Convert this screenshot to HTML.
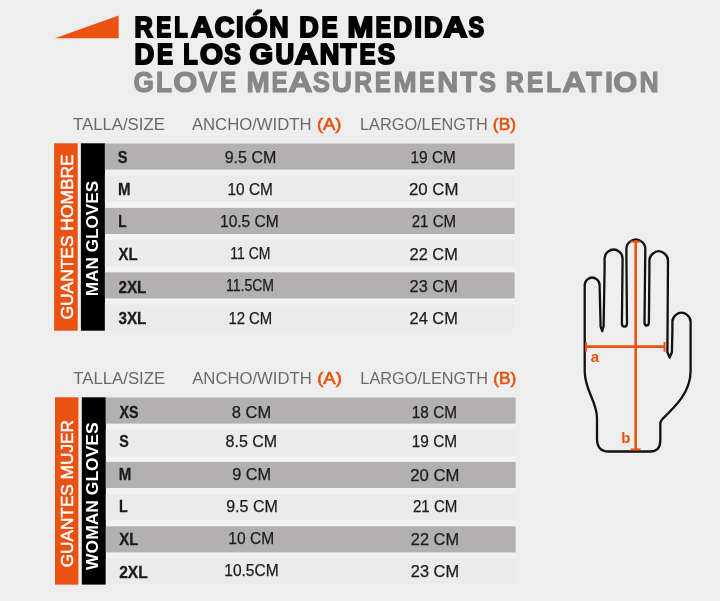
<!DOCTYPE html>
<html><head><meta charset="utf-8">
<style>
html,body{margin:0;padding:0;}
body{width:720px;height:601px;background:#eeeeee;overflow:hidden;}
svg{display:block;font-family:"Liberation Sans",sans-serif;}
</style></head><body>
<svg width="720" height="601" viewBox="0 0 720 601" style="filter:blur(0.35px)">
<rect width="720" height="601" fill="#eeeeee"/>
<polygon points="54.9,38.3 118.7,15.5 118.7,38.3" fill="#e95211"/>
<rect x="104.9" y="143.5" width="409.70" height="187.10" fill="#f2f2f0"/>
<rect x="105.8" y="397.5" width="409.80" height="187.10" fill="#f2f2f0"/>
<rect x="54.1" y="143.3" width="23.60" height="187.40" fill="#e95211"/>
<rect x="80.9" y="143.3" width="24.00" height="187.40" fill="#000"/>
<rect x="104.9" y="143.5" width="409.70" height="26.10" fill="#b2b0b0"/>
<rect x="104.9" y="175.7" width="409.70" height="26.10" fill="#ebebeb"/>
<rect x="104.9" y="207.9" width="409.70" height="26.10" fill="#b2b0b0"/>
<rect x="104.9" y="240.10000000000002" width="409.70" height="26.10" fill="#ebebeb"/>
<rect x="104.9" y="272.3" width="409.70" height="26.10" fill="#b2b0b0"/>
<rect x="104.9" y="304.5" width="409.70" height="26.10" fill="#ebebeb"/>
<rect x="55.0" y="397.3" width="23.40" height="187.30" fill="#e95211"/>
<rect x="81.8" y="397.3" width="24.00" height="187.30" fill="#000"/>
<rect x="105.8" y="397.5" width="409.80" height="26.10" fill="#b2b0b0"/>
<rect x="105.8" y="429.7" width="409.80" height="26.10" fill="#ebebeb"/>
<rect x="105.8" y="461.9" width="409.80" height="26.10" fill="#b2b0b0"/>
<rect x="105.8" y="494.1" width="409.80" height="26.10" fill="#ebebeb"/>
<rect x="105.8" y="526.3" width="409.80" height="26.10" fill="#b2b0b0"/>
<rect x="105.8" y="558.5" width="409.80" height="26.10" fill="#ebebeb"/>
<g fill="none" stroke="#111" stroke-width="2.3" stroke-linejoin="round" stroke-linecap="round">
<path d="M 650.5 451.5 L 608.5 451.5 C 600.5 451.5 597 446.5 597 438.5 L 597 418 C 597 401 584.7 391 584.7 371 L 584.70 284.95 C 584.70 279.88 589.77 277.50 592.15 277.50 C 594.53 277.50 599.60 279.88 599.60 284.95 L 600.6 326.5 L 602.2 331.2 L 603.6 326.5 L 604.6 268 L 604.60 258.50 C 604.60 252.38 610.72 249.50 613.60 249.50 C 616.48 249.50 622.60 252.38 622.60 258.50 L 621.9 323.2 C 621.9 327.8 627.0 327.8 627.0 323.2 L 626.4 258 L 626.40 248.75 C 626.40 242.32 632.83 239.30 635.85 239.30 C 638.87 239.30 645.30 242.32 645.30 248.75 L 644.5 322.2 C 644.5 326.6 648.9 326.6 648.9 322.2 L 649.4 270 L 649.40 260.50 C 649.40 254.18 655.72 251.20 658.70 251.20 C 661.68 251.20 668.00 254.18 668.00 260.50 L 667.4 352.3 L 669.7 357.6 L 671.9 352.3 L 672.4 331 L 672.40 321.70 C 672.40 315.51 678.59 312.60 681.50 312.60 C 684.41 312.60 690.60 315.51 690.60 321.70 L 690.6 371 C 690.6 392 676 406 662.2 419.3 L 660.3 422.6 L 660.3 440 C 660.3 447.5 657 451.5 650.5 451.5 Z"/>
</g>
<g stroke="#e95211" stroke-width="2.6" fill="none">
<path d="M 635.7 241.3 L 635.7 449.2"/>
<path d="M 630.6 241.6 L 640.6 241.6" stroke-width="2"/>
<path d="M 630.6 449.4 L 640.6 449.4" stroke-width="2"/>
<path d="M 585.8 346.6 L 664.8 346.6"/>
<path d="M 586 342 L 586 351.8" stroke-width="2"/>
<path d="M 664.6 342 L 664.6 351.8" stroke-width="2"/>
</g>
<text x="590.8" y="362" font-size="15" font-weight="bold" fill="#e95211">a</text>
<text x="621.2" y="442.9" font-size="15" font-weight="bold" fill="#e95211">b</text>

<text x="134.54" y="36.50" textLength="18.37" lengthAdjust="spacingAndGlyphs" font-size="28.7" font-weight="bold" fill="#000" stroke="#000" stroke-width="2.0" stroke-linejoin="miter">R</text>
<text x="156.34" y="36.50" textLength="14.93" lengthAdjust="spacingAndGlyphs" font-size="28.7" font-weight="bold" fill="#000" stroke="#000" stroke-width="2.0" stroke-linejoin="miter">E</text>
<text x="174.24" y="36.50" textLength="13.40" lengthAdjust="spacingAndGlyphs" font-size="28.7" font-weight="bold" fill="#000" stroke="#000" stroke-width="2.0" stroke-linejoin="miter">L</text>
<text x="190.97" y="36.50" textLength="22.06" lengthAdjust="spacingAndGlyphs" font-size="28.7" font-weight="bold" fill="#000" stroke="#000" stroke-width="2.0" stroke-linejoin="miter">A</text>
<text x="214.63" y="36.50" textLength="19.58" lengthAdjust="spacingAndGlyphs" font-size="28.7" font-weight="bold" fill="#000" stroke="#000" stroke-width="2.0" stroke-linejoin="miter">C</text>
<text x="236.11" y="36.50" textLength="7.60" lengthAdjust="spacingAndGlyphs" font-size="28.7" font-weight="bold" fill="#000" stroke="#000" stroke-width="2.0" stroke-linejoin="miter">I</text>
<text x="244.94" y="36.50" textLength="22.62" lengthAdjust="spacingAndGlyphs" font-size="28.7" font-weight="bold" fill="#000" stroke="#000" stroke-width="2.0" stroke-linejoin="miter">Ó</text>
<text x="269.19" y="36.50" textLength="19.37" lengthAdjust="spacingAndGlyphs" font-size="28.7" font-weight="bold" fill="#000" stroke="#000" stroke-width="2.0" stroke-linejoin="miter">N</text>
<text x="299.17" y="36.50" textLength="19.45" lengthAdjust="spacingAndGlyphs" font-size="28.7" font-weight="bold" fill="#000" stroke="#000" stroke-width="2.0" stroke-linejoin="miter">D</text>
<text x="321.52" y="36.50" textLength="16.15" lengthAdjust="spacingAndGlyphs" font-size="28.7" font-weight="bold" fill="#000" stroke="#000" stroke-width="2.0" stroke-linejoin="miter">E</text>
<text x="347.45" y="36.50" textLength="25.79" lengthAdjust="spacingAndGlyphs" font-size="28.7" font-weight="bold" fill="#000" stroke="#000" stroke-width="2.0" stroke-linejoin="miter">M</text>
<text x="375.49" y="36.50" textLength="15.56" lengthAdjust="spacingAndGlyphs" font-size="28.7" font-weight="bold" fill="#000" stroke="#000" stroke-width="2.0" stroke-linejoin="miter">E</text>
<text x="393.30" y="36.50" textLength="18.82" lengthAdjust="spacingAndGlyphs" font-size="28.7" font-weight="bold" fill="#000" stroke="#000" stroke-width="2.0" stroke-linejoin="miter">D</text>
<text x="414.21" y="36.50" textLength="7.83" lengthAdjust="spacingAndGlyphs" font-size="28.7" font-weight="bold" fill="#000" stroke="#000" stroke-width="2.0" stroke-linejoin="miter">I</text>
<text x="424.05" y="36.50" textLength="18.54" lengthAdjust="spacingAndGlyphs" font-size="28.7" font-weight="bold" fill="#000" stroke="#000" stroke-width="2.0" stroke-linejoin="miter">D</text>
<text x="443.59" y="36.50" textLength="23.75" lengthAdjust="spacingAndGlyphs" font-size="28.7" font-weight="bold" fill="#000" stroke="#000" stroke-width="2.0" stroke-linejoin="miter">A</text>
<text x="468.57" y="36.50" textLength="15.56" lengthAdjust="spacingAndGlyphs" font-size="28.7" font-weight="bold" fill="#000" stroke="#000" stroke-width="2.0" stroke-linejoin="miter">S</text>
<text x="134.41" y="64.00" textLength="19.70" lengthAdjust="spacingAndGlyphs" font-size="28.7" font-weight="bold" fill="#000" stroke="#000" stroke-width="2.0" stroke-linejoin="miter">D</text>
<text x="157.02" y="64.00" textLength="15.99" lengthAdjust="spacingAndGlyphs" font-size="28.7" font-weight="bold" fill="#000" stroke="#000" stroke-width="2.0" stroke-linejoin="miter">E</text>
<text x="183.29" y="64.00" textLength="14.43" lengthAdjust="spacingAndGlyphs" font-size="28.7" font-weight="bold" fill="#000" stroke="#000" stroke-width="2.0" stroke-linejoin="miter">L</text>
<text x="199.94" y="64.00" textLength="22.94" lengthAdjust="spacingAndGlyphs" font-size="28.7" font-weight="bold" fill="#000" stroke="#000" stroke-width="2.0" stroke-linejoin="miter">O</text>
<text x="224.27" y="64.00" textLength="16.57" lengthAdjust="spacingAndGlyphs" font-size="28.7" font-weight="bold" fill="#000" stroke="#000" stroke-width="2.0" stroke-linejoin="miter">S</text>
<text x="249.57" y="64.00" textLength="23.62" lengthAdjust="spacingAndGlyphs" font-size="28.7" font-weight="bold" fill="#000" stroke="#000" stroke-width="2.0" stroke-linejoin="miter">G</text>
<text x="275.39" y="64.00" textLength="18.65" lengthAdjust="spacingAndGlyphs" font-size="28.7" font-weight="bold" fill="#000" stroke="#000" stroke-width="2.0" stroke-linejoin="miter">U</text>
<text x="294.83" y="64.00" textLength="23.18" lengthAdjust="spacingAndGlyphs" font-size="28.7" font-weight="bold" fill="#000" stroke="#000" stroke-width="2.0" stroke-linejoin="miter">A</text>
<text x="319.79" y="64.00" textLength="19.60" lengthAdjust="spacingAndGlyphs" font-size="28.7" font-weight="bold" fill="#000" stroke="#000" stroke-width="2.0" stroke-linejoin="miter">N</text>
<text x="340.51" y="64.00" textLength="15.94" lengthAdjust="spacingAndGlyphs" font-size="28.7" font-weight="bold" fill="#000" stroke="#000" stroke-width="2.0" stroke-linejoin="miter">T</text>
<text x="359.52" y="64.00" textLength="15.99" lengthAdjust="spacingAndGlyphs" font-size="28.7" font-weight="bold" fill="#000" stroke="#000" stroke-width="2.0" stroke-linejoin="miter">E</text>
<text x="377.77" y="64.00" textLength="17.31" lengthAdjust="spacingAndGlyphs" font-size="28.7" font-weight="bold" fill="#000" stroke="#000" stroke-width="2.0" stroke-linejoin="miter">S</text>
<text x="133.60" y="92.20" textLength="20.36" lengthAdjust="spacingAndGlyphs" font-size="30.2" font-weight="bold" fill="#878787" stroke="#878787" stroke-width="1.2" stroke-linejoin="miter">G</text>
<text x="156.09" y="92.20" textLength="15.94" lengthAdjust="spacingAndGlyphs" font-size="30.2" font-weight="bold" fill="#878787" stroke="#878787" stroke-width="1.2" stroke-linejoin="miter">L</text>
<text x="173.28" y="92.20" textLength="24.08" lengthAdjust="spacingAndGlyphs" font-size="30.2" font-weight="bold" fill="#878787" stroke="#878787" stroke-width="1.2" stroke-linejoin="miter">O</text>
<text x="198.20" y="92.20" textLength="18.90" lengthAdjust="spacingAndGlyphs" font-size="30.2" font-weight="bold" fill="#878787" stroke="#878787" stroke-width="1.2" stroke-linejoin="miter">V</text>
<text x="220.09" y="92.20" textLength="16.16" lengthAdjust="spacingAndGlyphs" font-size="30.2" font-weight="bold" fill="#878787" stroke="#878787" stroke-width="1.2" stroke-linejoin="miter">E</text>
<text x="246.38" y="92.20" textLength="23.21" lengthAdjust="spacingAndGlyphs" font-size="30.2" font-weight="bold" fill="#878787" stroke="#878787" stroke-width="1.2" stroke-linejoin="miter">M</text>
<text x="271.60" y="92.20" textLength="16.04" lengthAdjust="spacingAndGlyphs" font-size="30.2" font-weight="bold" fill="#878787" stroke="#878787" stroke-width="1.2" stroke-linejoin="miter">E</text>
<text x="288.31" y="92.20" textLength="24.33" lengthAdjust="spacingAndGlyphs" font-size="30.2" font-weight="bold" fill="#878787" stroke="#878787" stroke-width="1.2" stroke-linejoin="miter">A</text>
<text x="312.69" y="92.20" textLength="17.13" lengthAdjust="spacingAndGlyphs" font-size="30.2" font-weight="bold" fill="#878787" stroke="#878787" stroke-width="1.2" stroke-linejoin="miter">S</text>
<text x="331.85" y="92.20" textLength="20.17" lengthAdjust="spacingAndGlyphs" font-size="30.2" font-weight="bold" fill="#878787" stroke="#878787" stroke-width="1.2" stroke-linejoin="miter">U</text>
<text x="354.30" y="92.20" textLength="17.80" lengthAdjust="spacingAndGlyphs" font-size="30.2" font-weight="bold" fill="#878787" stroke="#878787" stroke-width="1.2" stroke-linejoin="miter">R</text>
<text x="374.69" y="92.20" textLength="16.16" lengthAdjust="spacingAndGlyphs" font-size="30.2" font-weight="bold" fill="#878787" stroke="#878787" stroke-width="1.2" stroke-linejoin="miter">E</text>
<text x="393.59" y="92.20" textLength="23.11" lengthAdjust="spacingAndGlyphs" font-size="30.2" font-weight="bold" fill="#878787" stroke="#878787" stroke-width="1.2" stroke-linejoin="miter">M</text>
<text x="419.02" y="92.20" textLength="15.75" lengthAdjust="spacingAndGlyphs" font-size="30.2" font-weight="bold" fill="#878787" stroke="#878787" stroke-width="1.2" stroke-linejoin="miter">E</text>
<text x="437.26" y="92.20" textLength="20.96" lengthAdjust="spacingAndGlyphs" font-size="30.2" font-weight="bold" fill="#878787" stroke="#878787" stroke-width="1.2" stroke-linejoin="miter">N</text>
<text x="460.20" y="92.20" textLength="16.78" lengthAdjust="spacingAndGlyphs" font-size="30.2" font-weight="bold" fill="#878787" stroke="#878787" stroke-width="1.2" stroke-linejoin="miter">T</text>
<text x="478.96" y="92.20" textLength="17.07" lengthAdjust="spacingAndGlyphs" font-size="30.2" font-weight="bold" fill="#878787" stroke="#878787" stroke-width="1.2" stroke-linejoin="miter">S</text>
<text x="505.42" y="92.20" textLength="18.41" lengthAdjust="spacingAndGlyphs" font-size="30.2" font-weight="bold" fill="#878787" stroke="#878787" stroke-width="1.2" stroke-linejoin="miter">R</text>
<text x="526.77" y="92.20" textLength="16.62" lengthAdjust="spacingAndGlyphs" font-size="30.2" font-weight="bold" fill="#878787" stroke="#878787" stroke-width="1.2" stroke-linejoin="miter">E</text>
<text x="546.33" y="92.20" textLength="14.72" lengthAdjust="spacingAndGlyphs" font-size="30.2" font-weight="bold" fill="#878787" stroke="#878787" stroke-width="1.2" stroke-linejoin="miter">L</text>
<text x="562.21" y="92.20" textLength="23.72" lengthAdjust="spacingAndGlyphs" font-size="30.2" font-weight="bold" fill="#878787" stroke="#878787" stroke-width="1.2" stroke-linejoin="miter">A</text>
<text x="585.88" y="92.20" textLength="15.97" lengthAdjust="spacingAndGlyphs" font-size="30.2" font-weight="bold" fill="#878787" stroke="#878787" stroke-width="1.2" stroke-linejoin="miter">T</text>
<text x="604.94" y="92.20" textLength="8.01" lengthAdjust="spacingAndGlyphs" font-size="30.2" font-weight="bold" fill="#878787" stroke="#878787" stroke-width="1.2" stroke-linejoin="miter">I</text>
<text x="613.28" y="92.20" textLength="24.08" lengthAdjust="spacingAndGlyphs" font-size="30.2" font-weight="bold" fill="#878787" stroke="#878787" stroke-width="1.2" stroke-linejoin="miter">O</text>
<text x="639.40" y="92.20" textLength="19.19" lengthAdjust="spacingAndGlyphs" font-size="30.2" font-weight="bold" fill="#878787" stroke="#878787" stroke-width="1.2" stroke-linejoin="miter">N</text>
<text x="73.03" y="130.00" textLength="91.81" lengthAdjust="spacingAndGlyphs" font-size="16" font-weight="normal" fill="#6a6a6a">TALLA/SIZE</text>
<text x="191.94" y="130.00" textLength="119.54" lengthAdjust="spacingAndGlyphs" font-size="16" font-weight="normal" fill="#6a6a6a">ANCHO/WIDTH</text>
<text x="316.93" y="129.70" textLength="24.56" lengthAdjust="spacingAndGlyphs" font-size="16" font-weight="normal" fill="#e95211" stroke="#e95211" stroke-width="0.6" stroke-linejoin="miter">(A)</text>
<text x="360.05" y="130.00" textLength="127.65" lengthAdjust="spacingAndGlyphs" font-size="16" font-weight="normal" fill="#6a6a6a">LARGO/LENGTH</text>
<text x="492.86" y="129.70" textLength="23.21" lengthAdjust="spacingAndGlyphs" font-size="16" font-weight="normal" fill="#e95211" stroke="#e95211" stroke-width="0.6" stroke-linejoin="miter">(B)</text>
<text x="73.33" y="384.00" textLength="91.81" lengthAdjust="spacingAndGlyphs" font-size="16" font-weight="normal" fill="#6a6a6a">TALLA/SIZE</text>
<text x="192.24" y="384.00" textLength="119.54" lengthAdjust="spacingAndGlyphs" font-size="16" font-weight="normal" fill="#6a6a6a">ANCHO/WIDTH</text>
<text x="317.23" y="383.70" textLength="24.56" lengthAdjust="spacingAndGlyphs" font-size="16" font-weight="normal" fill="#e95211" stroke="#e95211" stroke-width="0.6" stroke-linejoin="miter">(A)</text>
<text x="360.35" y="384.00" textLength="127.65" lengthAdjust="spacingAndGlyphs" font-size="16" font-weight="normal" fill="#6a6a6a">LARGO/LENGTH</text>
<text x="493.16" y="383.70" textLength="23.21" lengthAdjust="spacingAndGlyphs" font-size="16" font-weight="normal" fill="#e95211" stroke="#e95211" stroke-width="0.6" stroke-linejoin="miter">(B)</text>
<text x="117.73" y="162.85" textLength="9.73" lengthAdjust="spacingAndGlyphs" font-size="16.0" font-weight="bold" fill="#1c1c1c" stroke="#1c1c1c" stroke-width="0.3" stroke-linejoin="miter">S</text>
<text x="118.08" y="195.35" textLength="12.53" lengthAdjust="spacingAndGlyphs" font-size="16.0" font-weight="bold" fill="#1c1c1c" stroke="#1c1c1c" stroke-width="0.3" stroke-linejoin="miter">M</text>
<text x="118.17" y="227.35" textLength="8.24" lengthAdjust="spacingAndGlyphs" font-size="16.0" font-weight="bold" fill="#1c1c1c" stroke="#1c1c1c" stroke-width="0.3" stroke-linejoin="miter">L</text>
<text x="118.61" y="260.35" textLength="19.00" lengthAdjust="spacingAndGlyphs" font-size="16.0" font-weight="bold" fill="#1c1c1c" stroke="#1c1c1c" stroke-width="0.3" stroke-linejoin="miter">XL</text>
<text x="118.47" y="292.85" textLength="27.97" lengthAdjust="spacingAndGlyphs" font-size="16.0" font-weight="bold" fill="#1c1c1c" stroke="#1c1c1c" stroke-width="0.3" stroke-linejoin="miter">2XL</text>
<text x="118.40" y="324.35" textLength="27.98" lengthAdjust="spacingAndGlyphs" font-size="16.0" font-weight="bold" fill="#1c1c1c" stroke="#1c1c1c" stroke-width="0.3" stroke-linejoin="miter">3XL</text>
<text x="224.71" y="162.88" textLength="51.60" lengthAdjust="spacingAndGlyphs" font-size="16.0" font-weight="normal" fill="#1c1c1c" stroke="#1c1c1c" stroke-width="0.25" stroke-linejoin="miter">9.5 CM</text>
<text x="227.55" y="195.38" textLength="45.34" lengthAdjust="spacingAndGlyphs" font-size="16.0" font-weight="normal" fill="#1c1c1c" stroke="#1c1c1c" stroke-width="0.25" stroke-linejoin="miter">10 CM</text>
<text x="220.00" y="227.38" textLength="58.79" lengthAdjust="spacingAndGlyphs" font-size="16.0" font-weight="normal" fill="#1c1c1c" stroke="#1c1c1c" stroke-width="0.25" stroke-linejoin="miter">10.5 CM</text>
<text x="230.21" y="259.38" textLength="40.23" lengthAdjust="spacingAndGlyphs" font-size="16.0" font-weight="normal" fill="#1c1c1c" stroke="#1c1c1c" stroke-width="0.25" stroke-linejoin="miter">11 CM</text>
<text x="225.94" y="291.18" textLength="48.11" lengthAdjust="spacingAndGlyphs" font-size="16.0" font-weight="normal" fill="#1c1c1c" stroke="#1c1c1c" stroke-width="0.25" stroke-linejoin="miter">11.5CM</text>
<text x="228.39" y="324.38" textLength="43.84" lengthAdjust="spacingAndGlyphs" font-size="16.0" font-weight="normal" fill="#1c1c1c" stroke="#1c1c1c" stroke-width="0.25" stroke-linejoin="miter">12 CM</text>
<text x="410.55" y="162.88" textLength="45.34" lengthAdjust="spacingAndGlyphs" font-size="16.0" font-weight="normal" fill="#1c1c1c" stroke="#1c1c1c" stroke-width="0.25" stroke-linejoin="miter">19 CM</text>
<text x="408.99" y="195.38" textLength="49.45" lengthAdjust="spacingAndGlyphs" font-size="16.0" font-weight="normal" fill="#1c1c1c" stroke="#1c1c1c" stroke-width="0.25" stroke-linejoin="miter">20 CM</text>
<text x="411.74" y="227.38" textLength="44.37" lengthAdjust="spacingAndGlyphs" font-size="16.0" font-weight="normal" fill="#1c1c1c" stroke="#1c1c1c" stroke-width="0.25" stroke-linejoin="miter">21 CM</text>
<text x="409.62" y="259.88" textLength="48.16" lengthAdjust="spacingAndGlyphs" font-size="16.0" font-weight="normal" fill="#1c1c1c" stroke="#1c1c1c" stroke-width="0.25" stroke-linejoin="miter">22 CM</text>
<text x="409.62" y="291.88" textLength="48.16" lengthAdjust="spacingAndGlyphs" font-size="16.0" font-weight="normal" fill="#1c1c1c" stroke="#1c1c1c" stroke-width="0.25" stroke-linejoin="miter">23 CM</text>
<text x="409.62" y="324.38" textLength="48.16" lengthAdjust="spacingAndGlyphs" font-size="16.0" font-weight="normal" fill="#1c1c1c" stroke="#1c1c1c" stroke-width="0.25" stroke-linejoin="miter">24 CM</text>
<text x="119.39" y="417.60" textLength="19.03" lengthAdjust="spacingAndGlyphs" font-size="16.0" font-weight="bold" fill="#1c1c1c" stroke="#1c1c1c" stroke-width="0.3" stroke-linejoin="miter">XS</text>
<text x="119.20" y="447.35" textLength="9.51" lengthAdjust="spacingAndGlyphs" font-size="16.0" font-weight="bold" fill="#1c1c1c" stroke="#1c1c1c" stroke-width="0.3" stroke-linejoin="miter">S</text>
<text x="118.83" y="479.85" textLength="12.53" lengthAdjust="spacingAndGlyphs" font-size="16.0" font-weight="bold" fill="#1c1c1c" stroke="#1c1c1c" stroke-width="0.3" stroke-linejoin="miter">M</text>
<text x="118.93" y="512.35" textLength="8.70" lengthAdjust="spacingAndGlyphs" font-size="16.0" font-weight="bold" fill="#1c1c1c" stroke="#1c1c1c" stroke-width="0.3" stroke-linejoin="miter">L</text>
<text x="119.36" y="545.35" textLength="19.00" lengthAdjust="spacingAndGlyphs" font-size="16.0" font-weight="bold" fill="#1c1c1c" stroke="#1c1c1c" stroke-width="0.3" stroke-linejoin="miter">XL</text>
<text x="119.19" y="577.85" textLength="28.54" lengthAdjust="spacingAndGlyphs" font-size="16.0" font-weight="bold" fill="#1c1c1c" stroke="#1c1c1c" stroke-width="0.3" stroke-linejoin="miter">2XL</text>
<text x="231.80" y="417.62" textLength="39.33" lengthAdjust="spacingAndGlyphs" font-size="16.0" font-weight="normal" fill="#1c1c1c" stroke="#1c1c1c" stroke-width="0.25" stroke-linejoin="miter">8 CM</text>
<text x="225.58" y="447.38" textLength="51.48" lengthAdjust="spacingAndGlyphs" font-size="16.0" font-weight="normal" fill="#1c1c1c" stroke="#1c1c1c" stroke-width="0.25" stroke-linejoin="miter">8.5 CM</text>
<text x="232.21" y="479.88" textLength="38.99" lengthAdjust="spacingAndGlyphs" font-size="16.0" font-weight="normal" fill="#1c1c1c" stroke="#1c1c1c" stroke-width="0.25" stroke-linejoin="miter">9 CM</text>
<text x="226.21" y="512.38" textLength="51.60" lengthAdjust="spacingAndGlyphs" font-size="16.0" font-weight="normal" fill="#1c1c1c" stroke="#1c1c1c" stroke-width="0.25" stroke-linejoin="miter">9.5 CM</text>
<text x="228.29" y="544.38" textLength="45.81" lengthAdjust="spacingAndGlyphs" font-size="16.0" font-weight="normal" fill="#1c1c1c" stroke="#1c1c1c" stroke-width="0.25" stroke-linejoin="miter">10 CM</text>
<text x="224.29" y="576.17" textLength="54.35" lengthAdjust="spacingAndGlyphs" font-size="16.0" font-weight="normal" fill="#1c1c1c" stroke="#1c1c1c" stroke-width="0.25" stroke-linejoin="miter">10.5CM</text>
<text x="411.80" y="417.62" textLength="45.34" lengthAdjust="spacingAndGlyphs" font-size="16.0" font-weight="normal" fill="#1c1c1c" stroke="#1c1c1c" stroke-width="0.25" stroke-linejoin="miter">18 CM</text>
<text x="411.80" y="446.88" textLength="45.34" lengthAdjust="spacingAndGlyphs" font-size="16.0" font-weight="normal" fill="#1c1c1c" stroke="#1c1c1c" stroke-width="0.25" stroke-linejoin="miter">19 CM</text>
<text x="410.25" y="480.62" textLength="49.08" lengthAdjust="spacingAndGlyphs" font-size="16.0" font-weight="normal" fill="#1c1c1c" stroke="#1c1c1c" stroke-width="0.25" stroke-linejoin="miter">20 CM</text>
<text x="412.99" y="512.38" textLength="44.37" lengthAdjust="spacingAndGlyphs" font-size="16.0" font-weight="normal" fill="#1c1c1c" stroke="#1c1c1c" stroke-width="0.25" stroke-linejoin="miter">21 CM</text>
<text x="410.87" y="544.88" textLength="48.16" lengthAdjust="spacingAndGlyphs" font-size="16.0" font-weight="normal" fill="#1c1c1c" stroke="#1c1c1c" stroke-width="0.25" stroke-linejoin="miter">22 CM</text>
<text x="410.87" y="576.88" textLength="48.16" lengthAdjust="spacingAndGlyphs" font-size="16.0" font-weight="normal" fill="#1c1c1c" stroke="#1c1c1c" stroke-width="0.25" stroke-linejoin="miter">23 CM</text>
<text x="-0.76" y="0.00" textLength="165.27" lengthAdjust="spacingAndGlyphs" font-size="16.4" font-weight="normal" fill="#fff" stroke="#fff" stroke-width="0.45" stroke-linejoin="miter" transform="translate(72.5,318.8) rotate(-90)">GUANTES HOMBRE</text>
<text x="-1.01" y="0.00" textLength="115.33" lengthAdjust="spacingAndGlyphs" font-size="16.4" font-weight="bold" fill="#fff" transform="translate(97.5,295.2) rotate(-90)">MAN GLOVES</text>
<text x="-0.57" y="0.00" textLength="147.27" lengthAdjust="spacingAndGlyphs" font-size="16.4" font-weight="normal" fill="#fff" stroke="#fff" stroke-width="0.45" stroke-linejoin="miter" transform="translate(73.2,566.8) rotate(-90)">GUANTES MUJER</text>
<text x="-0.01" y="0.00" textLength="147.54" lengthAdjust="spacingAndGlyphs" font-size="16.4" font-weight="bold" fill="#fff" transform="translate(98.3,569.9) rotate(-90)">WOMAN GLOVES</text>
</svg>
</body></html>
